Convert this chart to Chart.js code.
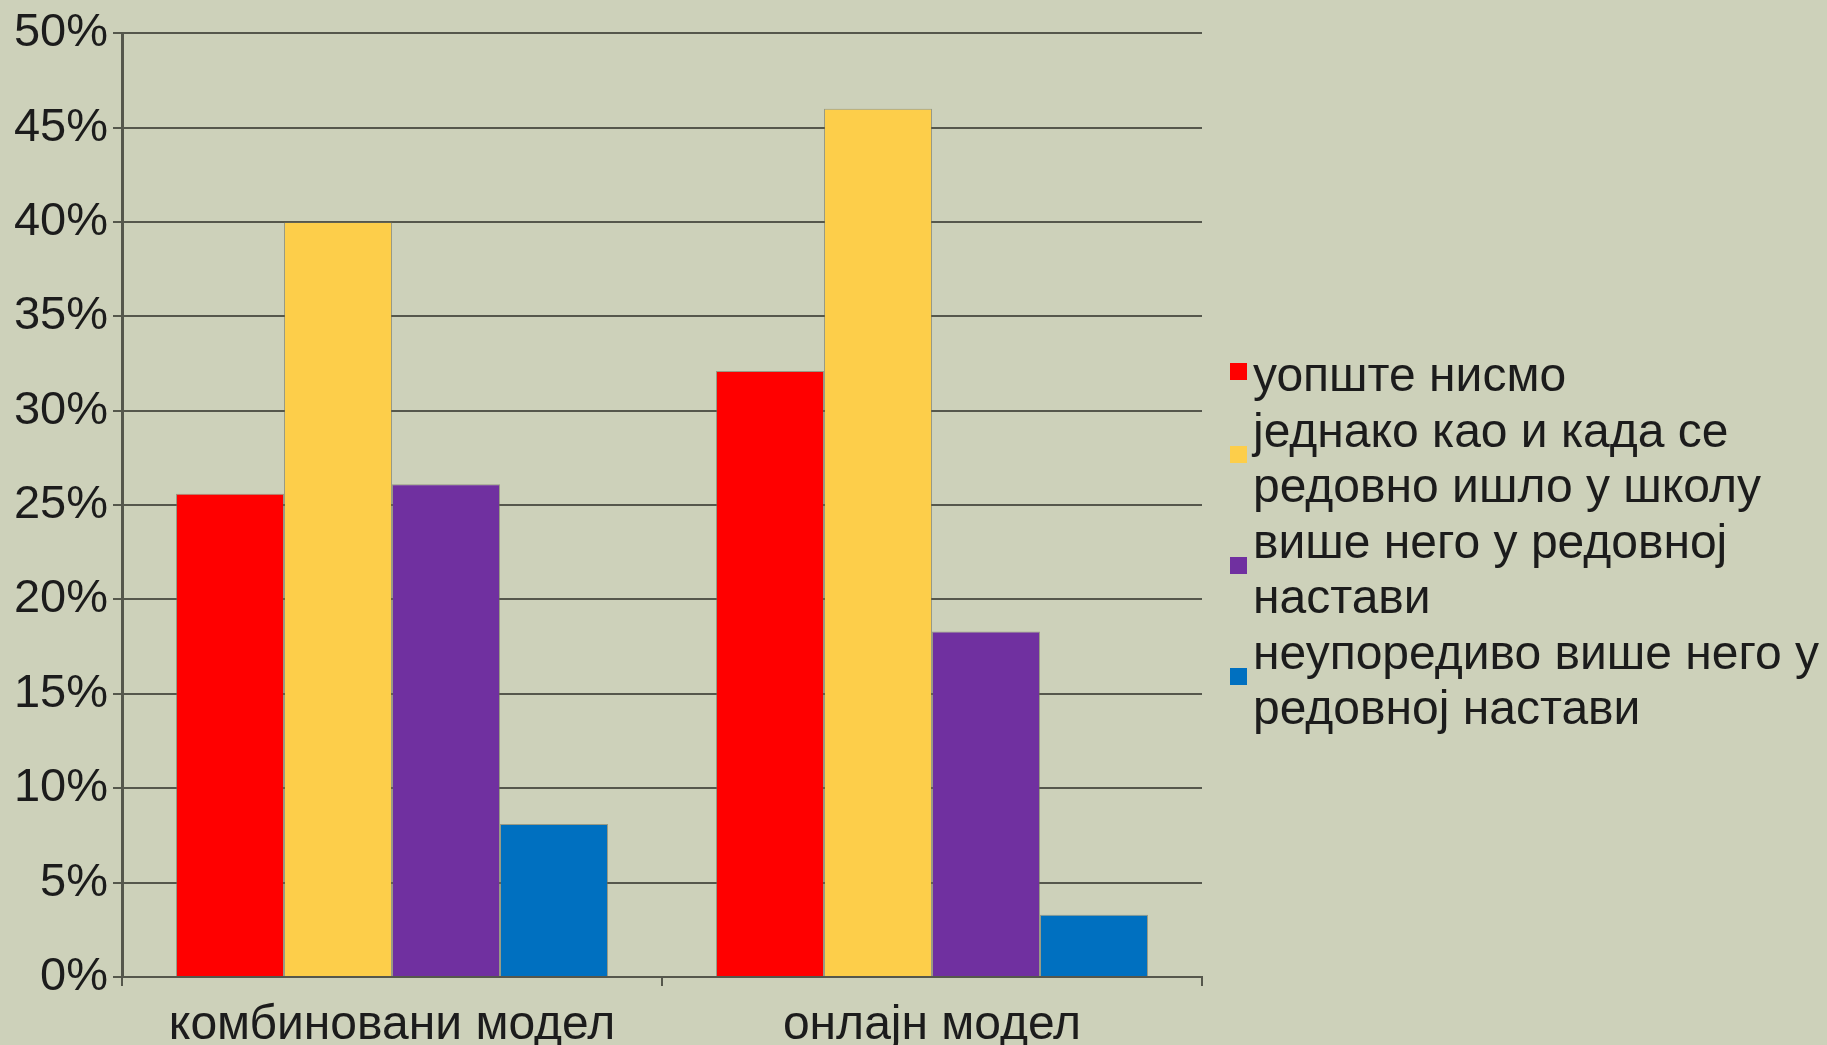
<!DOCTYPE html>
<html>
<head>
<meta charset="utf-8">
<script src="https://cdn.jsdelivr.net/npm/chart.js@4/dist/chart.umd.min.js"></script>
<style>
  html, body { margin: 0; padding: 0; background: #cdd1ba; }
  #wrap { position: relative; width: 1827px; height: 1045px; background: #cdd1ba; overflow: hidden; }
  #c { position: absolute; left: 0; top: 0; }
  #legend { position: absolute; left: 1230px; top: 347px; font-family: "Liberation Sans", Arial, sans-serif; font-size: 48px; line-height: 55px; color: #1c1c1c; }
  .item { position: relative; padding-left: 23px; margin-bottom: 1px; white-space: nowrap; }
  .sw { position: absolute; left: 0; width: 17px; height: 17px; top: 50%; margin-top: -12px; }
</style>
</head>
<body>
<div id="wrap">
  <canvas id="c" width="1827" height="1045"></canvas>
  <div id="legend"></div>
</div>
<script>
const categories = ["комбиновани модел", "онлајн модел"];
const seriesNames = [
  ["уопште нисмо"],
  ["једнако као и када се", "редовно ишло у школу"],
  ["више него у редовној", "настави"],
  ["неупоредиво више него у", "редовној настави"]
];
const seriesColors = ["#ff0000", "#fdce4a", "#7030a0", "#0070c0"];
const valuesNone = [25.6, 32.1];
const valuesEqual = [40.0, 46.0];
const valuesMore = [26.1, 18.3];
const valuesMuchMore = [8.1, 3.3];
const yTicks = [0, 5, 10, 15, 20, 25, 30, 35, 40, 45, 50];

const seriesValues = [valuesNone, valuesEqual, valuesMore, valuesMuchMore];
const FONT = "'Liberation Sans', Arial, sans-serif";
const gridColor = "#55574c";

const datasets = seriesValues.map((vals, i) => ({
  label: seriesNames[i].join(" "),
  data: vals,
  backgroundColor: seriesColors[i],
  borderColor: "rgba(110,110,90,0.55)",
  borderWidth: 1,
  categoryPercentage: 0.8,
  barPercentage: 1.0
}));

new Chart(document.getElementById("c"), {
  type: "bar",
  data: { labels: categories, datasets },
  options: {
    responsive: false,
    animation: false,
    layout: { padding: { left: 0, right: 625, top: 31, bottom: 0 } },
    plugins: { legend: { display: false }, tooltip: { enabled: false } },
    scales: {
      x: {
        grid: { offset: true, drawOnChartArea: false, drawTicks: true, tickLength: 9, color: gridColor, lineWidth: 2 },
        border: { display: true, color: gridColor, width: 2 },
        ticks: { font: { family: FONT, size: 48 }, color: "#1c1c1c", padding: 11 },
        afterFit: (s) => { s.height = 68; }
      },
      y: {
        min: 0, max: 50,
        afterBuildTicks: (s) => { s.ticks = yTicks.map(v => ({ value: v })); },
        grid: { color: gridColor, lineWidth: 2, drawTicks: true, tickLength: 9 },
        border: { display: true, color: gridColor, width: 3 },
        ticks: { font: { family: FONT, size: 47 }, color: "#1c1c1c", padding: 5, callback: (v) => v + "%" },
        afterFit: (s) => { s.width = 122; }
      }
    }
  }
});

const leg = document.getElementById("legend");
seriesNames.forEach((lines, i) => {
  const d = document.createElement("div");
  d.className = "item";
  const sw = document.createElement("span");
  sw.className = "sw";
  sw.style.background = seriesColors[i];
  d.appendChild(sw);
  lines.forEach((ln, j) => {
    if (j) d.appendChild(document.createElement("br"));
    d.appendChild(document.createTextNode(ln));
  });
  leg.appendChild(d);
});
</script>
</body>
</html>
